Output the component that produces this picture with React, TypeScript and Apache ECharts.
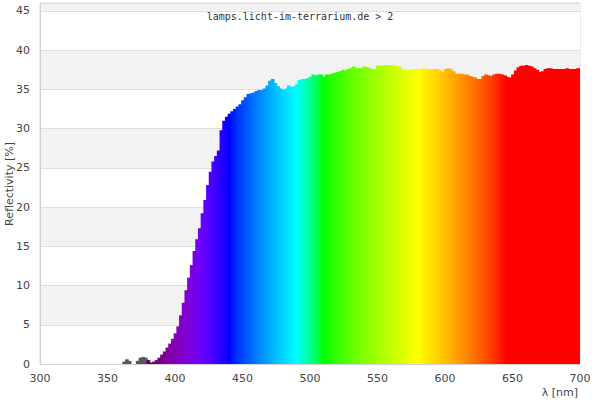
import React, { useEffect, useRef } from "react";
import * as echarts from "echarts";

const title = "lamps.licht-im-terrarium.de > 2";
const yAxisName = "Reflectivity [%]";
const xAxisName = "λ [nm]";
const xTicks = [300, 350, 400, 450, 500, 550, 600, 650, 700];

const wlStart = 356;
const wlStep = 2;
const reflectivity = [
  0, 0, 0, 0.3, 0.6, 0.4, 0, 0, 0.4, 0.8, 0.9, 0.8, 0.5, 0.2, 0.3, 0.5, 0.8,
  1.2, 1.6, 2.1, 2.6, 3.2, 3.9, 4.8, 6.2, 7.8, 9.4, 11.0, 12.6, 14.4, 15.9,
  17.3, 19.2, 20.9, 22.8, 24.5, 25.8, 26.5, 27.2, 29.8, 31.0, 31.5, 31.9, 32.2,
  32.5, 32.8, 33.1, 33.6, 34.0, 34.4, 34.5, 34.6, 34.8, 34.9, 34.9, 35.1, 35.5,
  36.1, 36.3, 35.8, 35.4, 35.1, 34.9, 35.1, 35.5, 35.3, 35.4, 35.7, 36.2, 36.3,
  36.3, 36.4, 36.6, 36.9, 36.8, 36.9, 36.9, 36.6, 36.9, 36.9, 37.0, 37.1, 37.2,
  37.3, 37.5, 37.4, 37.6, 37.7, 37.9, 37.7, 37.7, 37.7, 37.9, 37.8, 37.7, 37.6,
  37.6, 38.0, 38.0, 38.0, 38.1, 38.1, 38.1, 38.0, 38.0, 37.9, 37.6, 37.5, 37.4,
  37.5, 37.6, 37.6, 37.6, 37.6, 37.7, 37.6, 37.6, 37.6, 37.6, 37.6, 37.4, 37.2,
  37.6, 37.7, 37.6, 37.3, 37.0, 37.0, 37.0, 36.9, 36.9, 36.7, 36.6, 36.5, 36.3,
  36.3, 36.7, 36.9, 36.8, 36.7, 36.9, 37.0, 37.0, 36.9, 36.8, 36.6, 36.5, 36.9,
  37.4, 37.8, 38.0, 38.0, 38.1, 38.0, 37.9, 37.7, 37.5, 37.2, 37.3, 37.6, 37.7,
  37.7, 37.6, 37.6, 37.6, 37.6, 37.6, 37.7, 37.6, 37.6, 37.6, 37.7, 37.7,
];

function wavelengthColor(wl: number): string {
  if (wl < 380) return "#5e5363";
  let r = 0, g = 0, b = 0;
  if (wl < 440) { r = -(wl - 440) / 60; b = 1; }
  else if (wl < 490) { g = (wl - 440) / 50; b = 1; }
  else if (wl < 510) { g = 1; b = -(wl - 510) / 20; }
  else if (wl < 580) { r = (wl - 510) / 70; g = 1; }
  else if (wl < 645) { r = 1; g = -(wl - 645) / 65; }
  else { r = 1; }
  let f = 1;
  if (wl < 420) f = 0.3 + (0.7 * (wl - 380)) / 40;
  const c = (v: number) => (v <= 0 ? 0 : Math.round(255 * Math.pow(v * f, 0.8)));
  return `rgb(${c(r)},${c(g)},${c(b)})`;
}

export default function App() {
  const ref = useRef<HTMLDivElement>(null);
  useEffect(() => {
    if (!ref.current) return;
    const chart = echarts.init(ref.current, undefined, { renderer: "svg" });
    const data = reflectivity.map((v, i) => [wlStart + i * wlStep, v]);
    const font = "DejaVu Sans, sans-serif";
    chart.setOption({
      animation: false,
      title: {
        text: title,
        left: "center",
        top: 6,
        textStyle: { fontFamily: "DejaVu Sans Mono, monospace", fontSize: 10, fontWeight: "normal", color: "#333" },
      },
      grid: {
        left: 40, right: 20, top: 3, bottom: 36,
        outerBoundsMode: "none",
        containLabel: false,
        show: true, borderColor: "#d8d8d8", borderWidth: 1, backgroundColor: "transparent",
      },
      xAxis: {
        type: "value",
        min: 300, max: 700, interval: 50,
        axisLine: { show: true, lineStyle: { color: "#d0d0d0" } },
        axisTick: { show: false },
        splitLine: { show: false },
        axisLabel: {
          fontFamily: font, fontSize: 11, color: "#444", margin: 9,
          formatter: (v: number) => (xTicks.includes(v) ? String(v) : ""),
        },
      },
      yAxis: {
        type: "value",
        min: 0, max: 46, interval: 5,
        axisLine: { show: true, lineStyle: { color: "#d0d0d0" } },
        axisTick: { show: false },
        splitLine: { show: true, lineStyle: { color: "#dedede" } },
        splitArea: { show: true, areaStyle: { color: ["#ffffff", "#f2f2f2"] } },
        axisLabel: { fontFamily: font, fontSize: 11, color: "#444", margin: 10 },
      },
      graphic: [
        {
          type: "text",
          right: 22,
          top: 387,
          style: { text: xAxisName, fontFamily: font, fontSize: 11, fill: "#444" },
        },
        {
          type: "text",
          x: 9,
          y: 184,
          rotation: Math.PI / 2,
          style: {
            text: yAxisName, fontFamily: font, fontSize: 11, fill: "#444",
            align: "center", verticalAlign: "middle",
          },
        },
      ],
      series: [
        {
          type: "custom",
          clip: true,
          encode: { x: 0, y: 1 },
          data,
          renderItem: (params: any, api: any) => {
            const wl = api.value(0);
            const v = api.value(1);
            const p0 = api.coord([wl - wlStep / 2, v]);
            const p1 = api.coord([wl + wlStep / 2, 0]);
            return {
              type: "rect",
              shape: { x: p0[0], y: p0[1], width: p1[0] - p0[0] + 1, height: p1[1] - p0[1] },
              style: { fill: wavelengthColor(wl) },
            };
          },
        },
      ],
    });
    return () => chart.dispose();
  }, []);
  return <div ref={ref} style={{ position: "absolute", left: 0, top: 0, width: 600, height: 400 }} />;
}
